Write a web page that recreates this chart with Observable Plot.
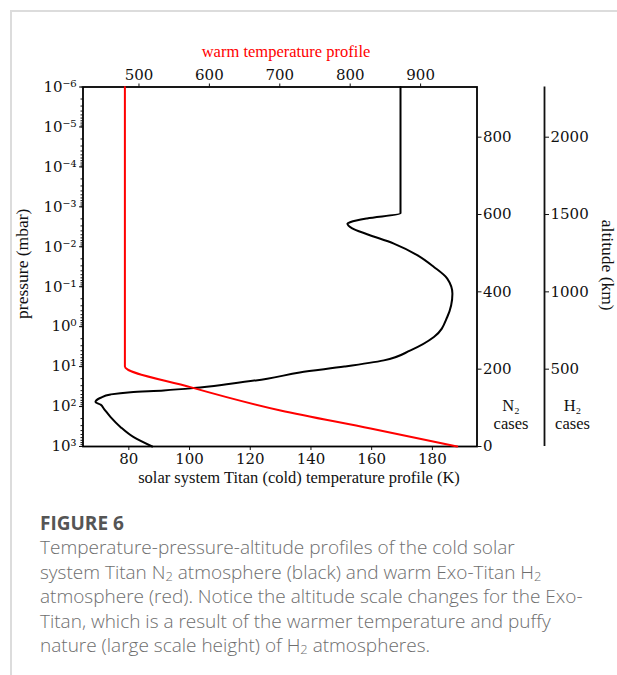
<!DOCTYPE html>
<html>
<head>
<meta charset="utf-8">
<script src="https://cdn.jsdelivr.net/npm/d3@7"></script>
<script src="https://cdn.jsdelivr.net/npm/@observablehq/plot@0.6"></script>
<style>
  html, body { margin: 0; padding: 0; background: #fff; }
  #page { position: relative; width: 617px; height: 675px; overflow: hidden; }
  #page .layer { position: absolute; left: 0; top: 0; }
  #border { position: absolute; left: 10px; top: 10px; right: -4px; bottom: -4px;
            border-top: 2px solid #dcdcdc; border-left: 2px solid #dcdcdc; }
  #caption { position: absolute; left: 40px; top: 511px; width: 575px;
             font-family: "Open Sans", sans-serif; font-size: 19px; line-height: 24.4px;
             color: #6e6e6e; font-weight: 300; white-space: nowrap; }
  #caption .fig { font-weight: 700; color: #555; }
  #caption sub { font-size: 0.68em; line-height: 0; vertical-align: -0.12em; }
</style>
</head>
<body>
<div id="page">
  <div id="border"></div>
  <div id="chart"></div>
  <div id="caption">
    <div class="fig">FIGURE 6</div>
    <div>Temperature-pressure-altitude profiles of the cold solar</div>
    <div>system Titan N<sub>2</sub> atmosphere (black) and warm Exo-Titan H<sub>2</sub></div>
    <div>atmosphere (red). Notice the altitude scale changes for the Exo-</div>
    <div>Titan, which is a result of the warmer temperature and puffy</div>
    <div>nature (large scale height) of H<sub>2</sub> atmospheres.</div>
  </div>
</div>
<script>
// Solar-system Titan (N2, cold) temperature profile: K vs pressure (mbar)
const coldTemp = [169.5, 169.5, 158.5, 153.1, 152.0, 153.6, 158.5, 167.3, 175.0, 180.5,
                  184.9, 186.6, 184.9, 180.5, 172.8, 164.0, 151.0, 136.3, 125.6, 113.5,
                  101.4, 91.5, 80.6, 74.0, 70.7, 69.0, 70.7, 71.8, 74.0, 77.3, 81.6, 87.7];
const coldPressure = [1e-6, 1.45e-3, 1.95e-3, 2.40e-3, 2.63e-3, 3.47e-3, 4.84e-3, 8.32e-3, 1.62e-2, 3.20e-2,
                      6.25e-2, 0.149, 0.573, 1.82, 3.92, 6.98, 10.0, 14.0, 20.1, 26.8,
                      34.5, 39.4, 43.6, 49.7, 60.1, 77.4, 89.9, 114, 184, 328, 585, 1000];

// Exo-Titan (H2, warm) temperature profile: K vs pressure (mbar)
const warmTemp = [480, 480, 573, 701, 829, 952];
const warmPressure = [1e-6, 10, 32.6, 125, 354, 1000];

// Tick values
const pressureTicks = [1e-6, 1e-5, 1e-4, 1e-3, 1e-2, 1e-1, 1e0, 1e1, 1e2, 1e3];
const coldTicks = [80, 100, 120, 140, 160, 180];
const warmTicks = [500, 600, 700, 800, 900];
const n2AltitudeTicks = [0, 200, 400, 600, 800];
const h2AltitudeTicks = [500, 1000, 1500, 2000];

const cold = coldTemp.map((t, i) => ({t, p: coldPressure[i]}));
const warm = warmTemp.map((t, i) => ({t, p: warmPressure[i]}));

const W = 617, H = 500;
const margins = {marginTop: 86.5, marginBottom: 54, marginLeft: 82.5, marginRight: 140.5};
const svgStyle = {fontFamily: "DejaVu Serif", fontSize: "15px", color: "#111",
                  background: "transparent", overflow: "visible"};
const titleFont = {fontFamily: "Liberation Serif", fontSize: 16.5, fill: "#111",
                   textAnchor: "middle", lineAnchor: "middle"};
const sideTitleFont = {...titleFont, fontSize: 17.5};
const yPressure = {type: "log", domain: [1e-6, 1e3], reverse: true, axis: null};

const sup = {"-": "\u207B", "0": "\u2070", "1": "\u00B9", "2": "\u00B2", "3": "\u00B3",
             "4": "\u2074", "5": "\u2075", "6": "\u2076", "7": "\u2077", "8": "\u2078", "9": "\u2079"};
const powerOfTen = p => "10" + String(Math.round(Math.log10(p))).replace(/./g, c => sup[c]);

// Cold profile: bottom temperature axis, left pressure axis
const coldPlot = Plot.plot({
  width: W, height: H, ...margins, style: svgStyle,
  x: {domain: [64.9, 194.7], axis: null},
  y: yPressure,
  marks: [
    Plot.axisY({ticks: 100, tickSize: 2, tickFormat: () => "", label: null}),
    Plot.axisY({ticks: pressureTicks, tickSize: 3.5, tickPadding: 3, tickFormat: powerOfTen, label: null}),
    Plot.axisX({ticks: coldTicks, tickSize: 4, tickPadding: 3, tickFormat: "d", label: null}),
    Plot.line(cold, {x: "t", y: "p", stroke: "black", strokeWidth: 2, curve: "monotone-y"}),
    Plot.frame({stroke: "black", strokeWidth: 1.8}),
    Plot.text(["solar system Titan (cold) temperature profile (K)"],
      {text: d => d, frameAnchor: "bottom", dx: 19, dy: 31, ...titleFont}),
    Plot.text(["pressure (mbar)"],
      {text: d => d, frameAnchor: "left", dx: -61, dy: -3, rotate: -90, ...sideTitleFont})
  ]
});

// Warm profile: top temperature axis
const warmPlot = Plot.plot({
  width: W, height: H, ...margins, style: svgStyle,
  x: {domain: [420.5, 980.1], axis: null},
  y: yPressure,
  marks: [
    Plot.axisX({anchor: "top", ticks: warmTicks, tickSize: 4, tickPadding: 3, tickFormat: "d", label: null}),
    Plot.line(warm, {x: "t", y: "p", stroke: "#ff0000", strokeWidth: 2, curve: "monotone-y"}),
    Plot.text(["warm temperature profile"],
      {text: d => d, frameAnchor: "top", dx: 6, dy: -35, ...titleFont, fill: "#ff0000"})
  ]
});

// Altitude axis for the N2 cases, on the frame's right edge
const n2Plot = Plot.plot({
  width: W, height: H, ...margins, style: svgStyle,
  y: {domain: [0, 929.8], axis: null},
  marks: [
    Plot.axisY({anchor: "right", ticks: n2AltitudeTicks, tickSize: 4, tickPadding: 2, tickFormat: "d", label: null}),
    Plot.text(["N\u2082\ncases"],
      {text: d => d, frameAnchor: "bottom-right", dx: 34, dy: -32, lineHeight: 1.1, ...titleFont})
  ]
});

// Altitude axis for the H2 cases, set further right
const h2Plot = Plot.plot({
  width: W, height: H, ...margins, marginRight: 73, style: svgStyle,
  x: {domain: [0, 1], axis: null},
  y: {domain: [0, 2324.6], axis: null},
  marks: [
    Plot.ruleX([1], {stroke: "#111", strokeWidth: 1.8}),
    Plot.axisY({anchor: "right", ticks: h2AltitudeTicks, tickSize: 4, tickPadding: 2, tickFormat: "d", label: null}),
    Plot.text(["H\u2082\ncases"],
      {text: d => d, frameAnchor: "bottom-right", dx: 28, dy: -32, lineHeight: 1.1, ...titleFont}),
    Plot.text(["altitude (km)"],
      {text: d => d, frameAnchor: "right", dx: 63, dy: -1.5, rotate: 90, ...sideTitleFont})
  ]
});

const chart = document.getElementById("chart");
for (const svg of [coldPlot, warmPlot, n2Plot, h2Plot]) {
  svg.classList.add("layer");
  chart.appendChild(svg);
}
</script>
</body>
</html>
